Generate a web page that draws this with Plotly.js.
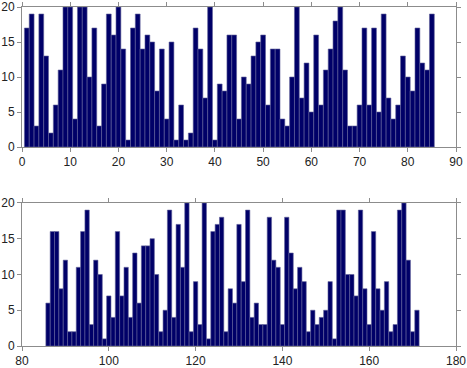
<!DOCTYPE html>
<html>
<head>
<meta charset="utf-8">
<script src="https://cdn.plot.ly/plotly-3.0.1.min.js"></script>
<style>html,body{margin:0;padding:0;background:#fff;}#chart{width:467px;height:368px;}</style>
</head>
<body>
<div id="chart"></div>
<script>
// Top panel: bars at x = 1..85
var topStart = 1;
var topValues = [17,19,3,19,13,2,6,11,20,20,
                 4,20,20,10,17,3,9,19,16,20,
                 14,1,17,19,14,16,15,8,14,4,
                 15,1,6,1,2,17,14,7,20,1,
                 9,8,16,16,4,10,9,13,15,16,
                 6,14,14,4,3,10,20,7,12,5,
                 16,6,11,14,18,20,11,3,3,6,
                 17,6,17,5,19,7,4,6,13,10,
                 8,17,12,11,19];
// Bottom panel: bars at x = 86..171
var bottomStart = 86;
var bottomValues = [6,16,16,8,12,2,2,11,16,19,
                    3,12,10,1,7,4,16,7,11,4,
                    13,6,14,14,15,10,2,5,19,4,
                    17,11,20,2,9,3,20,1,16,17,
                    18,2,8,6,17,9,19,4,6,3,
                    3,18,12,11,3,18,13,8,11,9,
                    2,5,3,4,5,9,1,19,19,10,
                    10,7,19,8,3,16,8,5,9,2,
                    3,19,20,12,2,5];
var topXTicks = [0,10,20,30,40,50,60,70,80,90];
var bottomXTicks = [80,100,120,140,160,180];
var yTicks = [0,5,10,15,20];

var barColor = '#000068';
var edge = {color: '#62629a', width: 0.6};

var traces = [
  {type:'bar', x0: topStart, dx: 1, y: topValues, xaxis:'x', yaxis:'y',
   marker:{color: barColor, line: edge}, hoverinfo:'x+y'},
  {type:'bar', x0: bottomStart, dx: 1, y: bottomValues, xaxis:'x2', yaxis:'y2',
   marker:{color: barColor, line: edge}, hoverinfo:'x+y'}
];

var axisCommon = {
  showline: true, linecolor: '#8c8c8c', linewidth: 1, mirror: 'ticks',
  ticks: 'outside', ticklen: 4, tickcolor: '#8c8c8c', tickwidth: 1,
  showgrid: false, zeroline: false, ticklabeloverflow: 'allow',
  tickfont: {family: 'Liberation Sans, Arial, sans-serif', size: 12, color: '#222'}
};

function ax(extra) { return Object.assign({}, axisCommon, extra); }

var layout = {
  width: 467, height: 368,
  margin: {l: 22, r: 11, t: 7, b: 22},
  paper_bgcolor: '#fff', plot_bgcolor: '#fff',
  showlegend: false, bargap: 0,
  xaxis: ax({domain:[0,1], anchor:'y', range:[0,90], tickvals: topXTicks, ticktext: topXTicks.map(String)}),
  yaxis: ax({domain:[0.587,1], anchor:'x', range:[0,20], tickvals: yTicks, ticktext: yTicks.map(String)}),
  xaxis2: ax({domain:[0,1], anchor:'y2', range:[80,180], tickvals: bottomXTicks, ticktext: bottomXTicks.map(String)}),
  yaxis2: ax({domain:[0,0.422], anchor:'x2', range:[0,20], tickvals: yTicks, ticktext: yTicks.map(String)})
};

Plotly.newPlot('chart', traces, layout, {displayModeBar: false, staticPlot: true});
</script>
</body>
</html>
